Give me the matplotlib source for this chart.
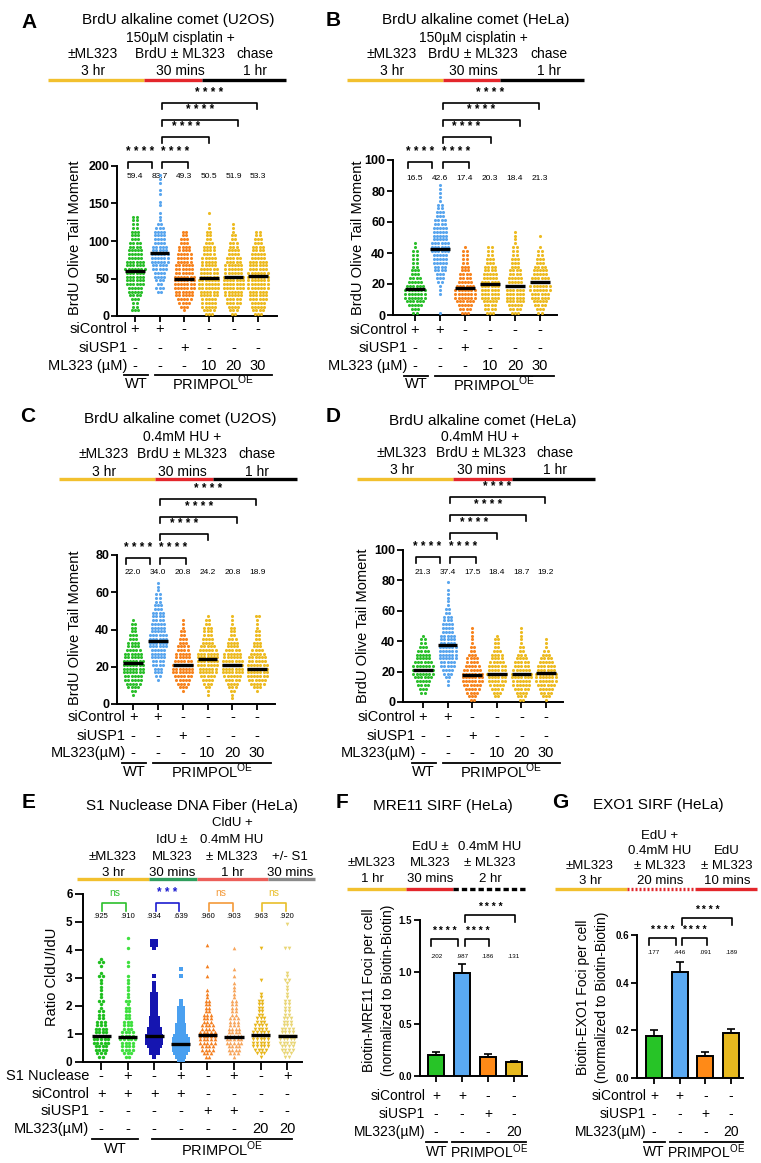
import matplotlib
matplotlib.use("Agg")
import matplotlib.pyplot as plt
import matplotlib.transforms as mtransforms
import numpy as np

plt.rcParams["font.family"] = ["Liberation Sans", "DejaVu Sans"]
plt.rcParams["mathtext.fontset"] = "custom"
plt.rcParams["mathtext.rm"] = "Liberation Sans"

# ---------------- data ----------------
# comet panels A-D: six conditions
comet_sictrl = ["+", "+", "-", "-", "-", "-"]
comet_siusp1 = ["-", "-", "+", "-", "-", "-"]
comet_ml323 = ["-", "-", "-", "10", "20", "30"]

# cells per bin (bin width given per panel), counted upward from 0
a_bin = 5
a_means = [59.4, 83.7, 49.3, 50.5, 51.9, 53.3]
a_wt = [0, 3, 2, 2, 3, 4, 5, 5, 6, 6, 6, 6, 7, 6, 6, 5, 5, 5, 4, 4, 3, 3, 3, 2, 2, 2, 2]
a_ctrl = [0, 0, 0, 0, 0, 0, 2, 3, 2, 3, 4, 4, 5, 5, 6, 6, 6, 5, 5, 4, 4, 4, 4, 3, 2, 1,
          1, 1, 0, 1, 1, 0, 1, 1, 0, 1, 1, 1]
a_usp1 = [0, 1, 3, 4, 5, 6, 6, 7, 7, 7, 7, 6, 6, 6, 5, 5, 5, 4, 4, 3, 3, 2, 2]
a_ml10 = [3, 4, 5, 5, 5, 6, 6, 7, 7, 7, 6, 6, 6, 5, 5, 5, 4, 4, 4, 3, 2, 2, 2, 1, 1, 0, 0, 1]
a_ml20 = [2, 3, 4, 5, 5, 6, 6, 7, 7, 7, 7, 6, 6, 6, 5, 5, 4, 4, 3, 3, 2, 2, 1, 1, 1]
a_ml30 = [3, 4, 5, 5, 6, 6, 6, 7, 7, 7, 7, 7, 6, 6, 6, 5, 5, 4, 4, 3, 3, 2, 2]

b_bin = 2.5
b_means = [16.5, 42.6, 17.4, 20.3, 18.4, 21.3]
b_wt = [2, 3, 5, 6, 7, 7, 7, 6, 5, 4, 3, 3, 2, 2, 2, 2, 2, 1, 1]
b_ctrl = [1, 0, 0, 0, 0, 1, 1, 1, 2, 3, 3, 4, 4, 5, 5, 5, 6, 6, 6, 5, 5, 5, 5, 4, 4, 3,
          3, 2, 2, 1, 1, 1, 1, 1]
b_usp1 = [3, 4, 5, 6, 7, 7, 7, 6, 5, 4, 4, 3, 3, 2, 2, 2, 2, 1]
b_ml10 = [3, 4, 4, 5, 6, 6, 6, 6, 6, 5, 5, 4, 4, 3, 3, 2, 2, 2]
b_ml20 = [3, 4, 5, 6, 6, 6, 6, 5, 5, 5, 4, 4, 3, 3, 3, 2, 2, 2, 1, 1, 1, 1]
b_ml30 = [2, 3, 4, 5, 6, 6, 7, 7, 6, 6, 5, 5, 4, 3, 3, 2, 2, 1, 0, 0, 1]

c_bin = 2
c_means = [22.0, 34.0, 20.8, 24.2, 20.8, 18.9]
c_wt = [0, 0, 1, 2, 4, 5, 6, 6, 7, 7, 7, 7, 6, 6, 5, 4, 4, 3, 3, 2, 2, 2, 1]
c_ctrl = [0, 0, 0, 0, 0, 0, 1, 2, 3, 3, 4, 4, 5, 5, 5, 6, 6, 6, 6, 5, 5, 5, 4, 4, 4, 3,
          3, 2, 2, 2, 1, 1, 1]
c_usp1 = [0, 0, 0, 1, 3, 4, 5, 6, 7, 7, 7, 6, 5, 5, 4, 4, 3, 3, 2, 2, 1, 1, 1]
c_ml10 = [0, 0, 1, 1, 2, 3, 4, 5, 6, 6, 7, 7, 7, 7, 6, 5, 4, 4, 3, 3, 3, 2, 2, 1]
c_ml20 = [0, 1, 1, 2, 3, 4, 5, 6, 7, 7, 7, 7, 6, 6, 5, 4, 4, 3, 2, 2, 2, 1, 1, 1]
c_ml30 = [0, 0, 0, 1, 3, 5, 6, 7, 7, 7, 7, 6, 6, 5, 4, 3, 3, 2, 2, 2, 1, 1, 1, 2]

d_bin = 2.5
d_means = [21.3, 37.4, 17.5, 18.4, 18.7, 19.2]
d_wt = [0, 0, 2, 3, 4, 5, 6, 7, 7, 7, 6, 5, 5, 4, 3, 2, 2, 1]
d_ctrl = [0, 0, 0, 0, 1, 1, 2, 3, 4, 5, 5, 6, 6, 6, 6, 5, 5, 5, 4, 4, 4, 3, 3, 2, 2, 1,
          1, 1, 1, 1, 0, 1]
d_usp1 = [2, 3, 4, 5, 6, 7, 7, 7, 6, 5, 4, 4, 3, 2, 2, 1, 1, 1, 1, 1]
d_ml10 = [0, 2, 3, 4, 5, 6, 6, 7, 6, 6, 5, 4, 4, 3, 2, 2, 2, 1]
d_ml20 = [2, 3, 4, 5, 6, 6, 7, 7, 6, 5, 5, 4, 3, 2, 2, 1, 1, 1, 1, 1]
d_ml30 = [1, 3, 4, 5, 6, 7, 7, 7, 6, 6, 5, 4, 3, 2, 1, 1, 1]

# panel E: fiber ratio, fibers per 0.125 bin
e_bin = 0.125
fiber_s1 = ["-", "+", "-", "+", "-", "+", "-", "+"]
fiber_sictrl = ["+", "+", "+", "+", "-", "-", "-", "-"]
fiber_siusp1 = ["-", "-", "-", "-", "+", "+", "-", "-"]
fiber_ml323 = ["-", "-", "-", "-", "-", "-", "20", "20"]
fiber_means = [0.925, 0.910, 0.934, 0.639, 0.960, 0.903, 0.963, 0.920]
fiber_sig = ["ns", "***", "ns", "ns"]
e_wt = [0, 2, 3, 4, 4, 5, 5, 4, 4, 4, 3, 3, 2, 2, 2, 1, 1, 2, 1, 1, 1, 1, 1, 1, 2, 1,
        0, 1, 2, 1]
e_wt_s1 = [0, 2, 3, 4, 4, 4, 5, 4, 4, 3, 3, 3, 2, 2, 2, 2, 1, 2, 1, 1, 1, 1, 1, 1, 1, 0,
           0, 1, 1, 0, 0, 0, 1, 0, 0, 1]
e_ctrl = [0, 1, 3, 3, 4, 5, 5, 5, 4, 4, 3, 3, 3, 2, 2, 2, 2, 2, 2, 2, 1, 1, 1, 0, 1, 0,
          0, 0, 0, 0, 0, 0, 1, 2, 2]
e_ctrl_s1 = [2, 3, 4, 5, 5, 5, 5, 4, 3, 3, 3, 2, 2, 2, 2, 2, 1, 1, 0, 0, 0, 0, 0, 0, 1,
             0, 1]
e_usp1 = [0, 2, 3, 4, 4, 5, 5, 5, 5, 4, 4, 3, 3, 3, 2, 2, 2, 2, 1, 1, 1, 0, 0, 0, 1, 0,
          0, 1, 0, 0, 0, 0, 0, 1]
e_usp1_s1 = [0, 1, 3, 4, 4, 5, 5, 5, 4, 4, 3, 3, 3, 2, 2, 2, 2, 2, 1, 1, 1, 1, 1, 0, 1,
             0, 1, 0, 0, 0, 0, 0, 1]
e_ml = [0, 1, 3, 4, 5, 5, 5, 5, 5, 4, 4, 3, 3, 2, 2, 2, 2, 2, 1, 1, 0, 0, 0, 1, 0, 0,
        0, 0, 0, 0, 0, 0, 1]
e_ml_s1 = [0, 2, 3, 4, 4, 5, 5, 5, 4, 4, 3, 3, 3, 2, 2, 2, 2, 2, 1, 1, 1, 1, 1, 2, 1,
           1, 0, 0, 0, 0, 0, 0, 2, 0, 0, 0, 0, 0, 0, 1]

# panels F, G: SIRF bars
sirf_sictrl = ["+", "+", "-", "-"]
sirf_siusp1 = ["-", "-", "+", "-"]
sirf_ml323 = ["-", "-", "-", "20"]
mre11_mean = [0.202, 0.987, 0.186, 0.131]
mre11_err = [0.025, 0.09, 0.022, 0.018]
exo1_mean = [0.177, 0.446, 0.091, 0.189]
exo1_err = [0.024, 0.042, 0.018, 0.017]

# ---------------- figure ----------------
W, H = 761, 1163
fig = plt.figure(figsize=(W / 100, H / 100), dpi=100)
ov = fig.add_axes([0, 0, 1, 1])
ov.set_xlim(0, W)
ov.set_ylim(H, 0)
ov.axis("off")

GREEN, BLUE, ORANGE, YELLOW = "#2cbf2c", "#5aa6ee", "#f7841f", "#edbb22"
GOLD, RED = "#f2c02e", "#e3262b"
comet_colors = [GREEN, BLUE, ORANGE, YELLOW, YELLOW, YELLOW]


def px_axes(x0, x1, ytop, ybot):
    ax = fig.add_axes([x0 / W, 1 - ybot / H, (x1 - x0) / W, (ybot - ytop) / H])
    ax.patch.set_visible(False)
    for s in ("top", "right"):
        ax.spines[s].set_visible(False)
    for s in ("left", "bottom"):
        ax.spines[s].set_linewidth(1.4)
    return ax


def mixed(ax):
    return mtransforms.blended_transform_factory(ax.transData, ov.transData)


def txt(x, y, s, fs=10, **kw):
    ov.text(x, y, s, fontsize=fs, ha=kw.pop("ha", "center"), va=kw.pop("va", "center"), **kw)


def seg(x0, x1, y, color, ls="-", lw=2.4):
    ov.plot([x0, x1], [y, y], color=color, lw=lw, ls=ls,
            solid_capstyle="butt", dash_capstyle="butt")


def bracket(ax, x0, x1, y, label, color="k", fs=8.5, drop=6, gap=10, bold=True):
    tr = mixed(ax)
    ov.plot([x0, x0, x1, x1], [y + drop, y, y, y + drop], color=color, lw=1.2, transform=tr)
    ov.text((x0 + x1) / 2, y - gap, label, color=color, fontsize=fs,
            fontweight="bold" if bold else "normal", ha="center", va="center", transform=tr)


def swarm(ax, i, counts, binw, color, dx, marker="o", s=5):
    for b, n in enumerate(counts):
        if n:
            xs = i + (np.arange(n) - (n - 1) / 2) * dx
            ax.scatter(xs, np.full(n, (b + 0.5) * binw), s=s, marker=marker, color=color,
                       linewidths=0, clip_on=False, zorder=3)


def rows_table(ax, labels, rows, ys, fs=10.5, lab_x=-0.3):
    tr = mixed(ax)
    for lab, vals, y in zip(labels, rows, ys):
        ov.text(lab_x, y, lab, fontsize=fs, ha="right", va="center", transform=tr)
        for i, v in enumerate(vals):
            ov.text(i, y, v, fontsize=fs, ha="center", va="center", transform=tr)


def genotype(ax, wt_span, pr_span, y, fs=10.5, off=8.5):
    tr = mixed(ax)
    for (a, b), lab in ((wt_span, "WT"), (pr_span, "PRIMPOL$^{\\mathrm{OE}}$")):
        ov.plot([a, b], [y, y], color="k", lw=1.3, transform=tr)
        ov.text((a + b) / 2, y + off, lab, fontsize=fs, ha="center", va="center", transform=tr)


def axis_style(ax, yt, ylabels, fs, tick_len=4):
    ax.set_yticks(yt)
    ax.set_yticklabels(ylabels, fontweight="bold")
    ax.tick_params(axis="both", length=tick_len, width=1.3, pad=1.5, labelsize=fs)
    ax.tick_params(axis="x", labelbottom=False)


def comet_panel(box, xlim, ymax, ystep, groups, means, binw, ylab_xy, ymean, ybr,
                rows_y, ml_label):
    ax = px_axes(*box)
    sp = (box[1] - box[0]) / (xlim[1] - xlim[0])
    for i, (cnt, c) in enumerate(zip(groups, comet_colors)):
        swarm(ax, i, cnt, binw, c, 3.2 / sp)
        ax.hlines(means[i], i - 0.4, i + 0.4, color="k", lw=2.4, zorder=4)
    ax.set_xlim(*xlim)
    ax.set_ylim(0, ymax)
    ax.set_xticks(range(len(groups)))
    yt = np.arange(0, ymax + 1e-9, ystep)
    axis_style(ax, yt, [f"{v:g}" for v in yt], 9)
    txt(ylab_xy[0], ylab_xy[1], "BrdU Olive Tail Moment", 10.5, rotation=90)
    tr = mixed(ax)
    for i, m in enumerate(means):
        ov.text(i, ymean, f"{m:.1f}", fontsize=6, ha="center", va="center", transform=tr)
    stars = "* * * *"
    bracket(ax, -0.3, 0.68, ybr[0], stars)
    bracket(ax, 1.1, 2.15, ybr[0], stars)
    for end, y in zip([3.02, 4.2, 4.95], ybr[1:]):
        bracket(ax, 1.1, end, y, stars)
    rows_table(ax, ["siControl", "siUSP1", ml_label],
               [comet_sictrl, comet_siusp1, comet_ml323], rows_y[:3])
    genotype(ax, (-0.45, 0.52), (0.8, 5.57), rows_y[3])
    return ax


def comet_header(letter_xy, letter, title_xy, title, treat_xy, treat, col_x, rows, line_x, line_y):
    txt(letter_xy[0], letter_xy[1], letter, 15, fontweight="bold")
    txt(title_xy[0], title_xy[1], title, 11)
    txt(treat_xy[0], treat_xy[1], treat, 10)
    for x, top, bot in zip(col_x, ["±ML323", "BrdU ± ML323", "chase"], ["3 hr", "30 mins", "1 hr"]):
        txt(x, rows[0], top, 10)
        txt(x, rows[1], bot, 10)
    seg(line_x[0], line_x[1], line_y, GOLD)
    seg(line_x[1], line_x[2], line_y, RED)
    seg(line_x[2], line_x[3], line_y, "k")


# ---- A ----
comet_header((29, 22), "A", (178, 20), "BrdU alkaline comet (U2OS)", (180, 38),
             "150µM cisplatin +", [93, 180, 255], (54, 71), [48, 144, 202, 286], 80)
comet_panel((117, 277, 166, 316), (-0.73, 5.77), 200, 50,
            [a_wt, a_ctrl, a_usp1, a_ml10, a_ml20, a_ml30], a_means, a_bin,
            (75, 238), 176, [162, 137, 120, 103], [329, 348, 366, 375], "ML323 (µM)")

# ---- B ----
comet_header((333, 20), "B", (476, 20), "BrdU alkaline comet (HeLa)", (473, 38),
             "150µM cisplatin +", [392, 473, 549], (54, 71), [347, 443, 500, 584], 80)
comet_panel((393, 557, 160, 315), (-0.88, 5.68), 100, 20,
            [b_wt, b_ctrl, b_usp1, b_ml10, b_ml20, b_ml30], b_means, b_bin,
            (358, 238), 178, [162, 137, 120, 103], [330, 348, 366, 376], "ML323 (µM)")

# ---- C ----
comet_header((28, 417), "C", (180, 419), "BrdU alkaline comet (U2OS)", (182, 437),
             "0.4mM HU +", [104, 182, 257], (454, 472), [59, 155, 213, 297], 479)
comet_panel((117, 275, 555, 704), (-0.65, 5.72), 80, 20,
            [c_wt, c_ctrl, c_usp1, c_ml10, c_ml20, c_ml30], c_means, c_bin,
            (75, 628), 573, [558, 534, 517, 499], [717, 736, 753, 763], "ML323(µM)")

# ---- D ----
comet_header((333, 417), "D", (483, 421), "BrdU alkaline comet (HeLa)", (480, 437),
             "0.4mM HU +", [402, 481, 555], (453, 470), [357, 453, 512, 595], 479)
comet_panel((403, 563, 550, 702), (-0.81, 5.69), 100, 20,
            [d_wt, d_ctrl, d_usp1, d_ml10, d_ml20, d_ml30], d_means, d_bin,
            (363, 626), 573, [557, 533, 515, 497], [717, 736, 753, 763], "ML323(µM)")

# ---- E ----
txt(29, 803, "E", 15, fontweight="bold")
txt(192, 806, "S1 Nuclease DNA Fiber (HeLa)", 11)
for x, lines in [(113, ["±ML323", "3 hr"]), (172, ["IdU ±", "ML323", "30 mins"]),
                 (232, ["CldU +", "0.4mM HU", "± ML323", "1 hr"]), (290, ["+/- S1", "30 mins"])]:
    for k, s in enumerate(lines[::-1]):
        txt(x, 873 - 16.5 * k, s, 9.5)
for (x0, x1), c in zip([(77, 149), (149, 197), (197, 268), (268, 315)],
                       [GOLD, "#2f9d5c", "#ec5f5a", "#8a8a8a"]):
    seg(x0, x1, 879, c)

axE = px_axes(83, 302, 894, 1062)
e_xlim = (-0.68, 7.56)
spE = (302 - 83) / (e_xlim[1] - e_xlim[0])
e_groups = [e_wt, e_wt_s1, e_ctrl, e_ctrl_s1, e_usp1, e_usp1_s1, e_ml, e_ml_s1]
e_colors = ["#1fbf1f", "#3fe03f", "#1515b0", "#4aa0f0", "#f47f20", "#f7a55c", "#e8b61a", "#e9d676"]
e_markers = ["o", "o", "s", "s", "^", "^", "v", "v"]
e_sizes = [6, 6, 5, 5, 7, 7, 7, 7]
for i, cnt in enumerate(e_groups):
    swarm(axE, i, cnt, e_bin, e_colors[i], 3.6 / spE, marker=e_markers[i], s=e_sizes[i])
    axE.hlines(fiber_means[i], i - 0.36, i + 0.36, color="k", lw=2.4, zorder=4)
axE.set_xlim(*e_xlim)
axE.set_ylim(0, 6)
axE.set_xticks(range(8))
axis_style(axE, range(7), [str(v) for v in range(7)], 8.5, tick_len=6)
txt(52, 977, "Ratio CldU/IdU", 10.5, rotation=90)
trE = mixed(axE)
for i, m in enumerate(fiber_means):
    ov.text(i, 917, f"{m:.3f}".lstrip("0"), fontsize=5.5, ha="center", va="center", transform=trE)
for k, (lab, c) in enumerate(zip(fiber_sig, ["#2cc02c", "#1c1cd0", "#f39a3a", "#e9bf2a"])):
    is_ns = lab == "ns"
    bracket(axE, 2 * k + 0.05, 2 * k + 0.95, 903, lab if is_ns else "* * *", color=c,
            fs=7.5 if is_ns else 8.5, drop=8, gap=10, bold=not is_ns)
rows_table(axE, ["S1 Nuclease", "siControl", "siUSP1", "ML323(µM)"],
           [fiber_s1, fiber_sictrl, fiber_siusp1, fiber_ml323], [1076, 1094, 1111, 1129],
           lab_x=-0.45)
genotype(axE, (-0.34, 1.39), (1.92, 7.2), 1139, off=10)

# ---- F, G ----
sirf_colors = ["#27c427", "#5aa9f2", "#ff8a17", "#e7b91f"]


def sirf_panel(box, xlim, ymax, ystep, means, errs, ylab_x, ylab_y, ymean, ybr, lab_x):
    ax = px_axes(*box)
    ax.bar(range(4), means, width=0.62, color=sirf_colors, edgecolor="k", lw=1.4,
           yerr=[[0] * 4, errs], error_kw=dict(ecolor="k", elinewidth=1.2, capsize=3, capthick=1.2),
           zorder=3)
    ax.set_xlim(*xlim)
    ax.set_ylim(0, ymax)
    ax.set_xticks(range(4))
    yt = np.arange(0, ymax + 1e-9, ystep)
    axis_style(ax, yt, [f"{v:.1f}" for v in yt], 7)
    tr = mixed(ax)
    for i, m in enumerate(means):
        ov.text(i, ymean, f"{m:.3f}".lstrip("0"), fontsize=4.5, ha="center", va="center", transform=tr)
    bracket(ax, -0.2, 0.86, ybr[0], "* * * *", fs=7.5, drop=7, gap=8)
    bracket(ax, 1.1, 2.05, ybr[0], "* * * *", fs=7.5, drop=7, gap=8)
    bracket(ax, 1.1, 3.05, ybr[1], "* * * *", fs=7.5, drop=7, gap=8)
    txt(ylab_x[0], ylab_y, ylab_x[2], 10, rotation=90)
    txt(ylab_x[1], ylab_y, "(normalized to Biotin-Biotin)", 10, rotation=90)
    rows_table(ax, ["siControl", "siUSP1", "ML323(µM)"], [sirf_sictrl, sirf_siusp1, sirf_ml323],
               [1096, 1114, 1132], fs=10, lab_x=lab_x)
    genotype(ax, (-0.4, 0.42), (0.62, 3.45), 1142, fs=10, off=10)
    return ax


txt(342, 803, "F", 15, fontweight="bold")
txt(443, 806, "MRE11 SIRF (HeLa)", 11)
for x, lines in [(372, ["±ML323", "1 hr"]), (430, ["EdU ±", "ML323", "30 mins"]),
                 (490, ["0.4mM HU", "± ML323", "2 hr"])]:
    for k, s in enumerate(lines[::-1]):
        txt(x, 879 - 16 * k, s, 9.5)
seg(347, 406, 889, GOLD)
seg(406, 453, 889, RED)
seg(453, 525, 889, "k", ls=(0, (1.6, 0.9)))
sirf_panel((420, 527, 920, 1076), (-0.62, 3.5), 1.5, 0.5, mre11_mean, mre11_err,
           (369, 388, "Biotin-MRE11 Foci per cell"), 990, 957, (939, 915), -0.42)

txt(560, 803, "G", 15, fontweight="bold")
txt(658, 805, "EXO1 SIRF (HeLa)", 11)
for x, lines in [(590, ["±ML323", "3 hr"]), (660, ["EdU +", "0.4mM HU", "± ML323", "20 mins"]),
                 (727, ["EdU", "± ML323", "10 mins"])]:
    for k, s in enumerate(lines[::-1]):
        txt(x, 881 - 15 * k, s, 9.5)
seg(555, 627, 889, GOLD)
seg(627, 695, 889, RED, ls=(0, (0.6, 0.6)))
seg(695, 757, 889, RED)
sirf_panel((637, 743, 935, 1078), (-0.66, 3.46), 0.6, 0.2, exo1_mean, exo1_err,
           (583, 602, "Biotin-EXO1 Foci per cell"), 997, 952, (938, 918), -0.3)

fig.savefig("out.png", dpi=100)
